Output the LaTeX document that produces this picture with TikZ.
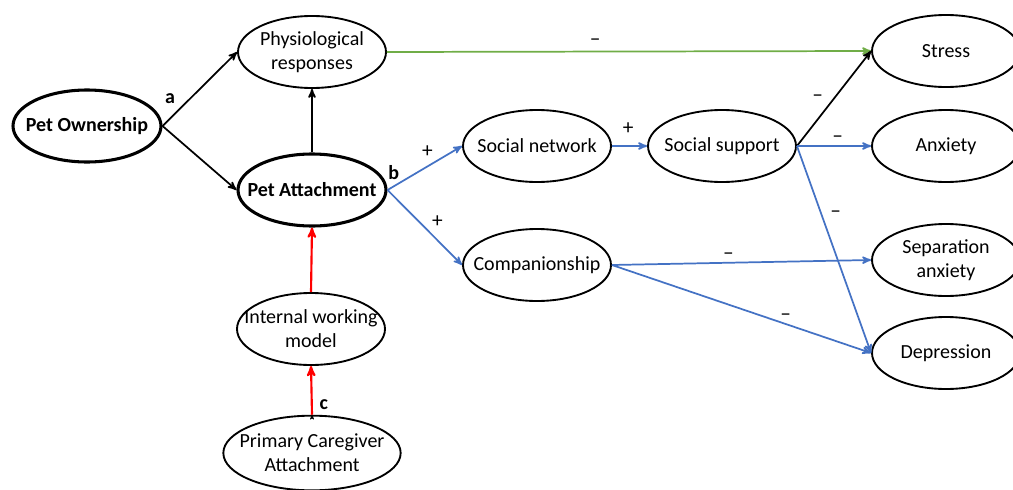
\documentclass[tikz,border=0pt]{standalone}
\usepackage{fontspec}
\setmainfont{Carlito}
\usepackage{tikz}
\usetikzlibrary{shapes.geometric, positioning, arrows}
\definecolor{linkblue}{RGB}{68,114,196}
\definecolor{linkgreen}{RGB}{112,173,71}
\tikzset{
  ->,
  >=stealth',
  var/.style={ellipse, draw, line width=1.4pt, minimum width=111pt, minimum height=54pt, inner sep=0pt},
  main var/.style={var, line width=2.3pt},
  txt/.style={font=\fontsize{15}{18}\selectfont, align=center, inner sep=0pt},
  btxt/.style={txt, font=\bfseries\fontsize{15}{18}\selectfont},
  sign/.style={font=\fontsize{16}{18}\selectfont, text=black, inner sep=2pt},
  letter/.style={font=\bfseries\fontsize{15}{18}\selectfont, text=black, inner sep=2pt},
  link/.style={line width=1.3pt},
  blue link/.style={link, linkblue},
  green link/.style={link, linkgreen},
  red link/.style={line width=1.6pt, red},
}

\begin{document}
\begin{tikzpicture}[x=0.75pt, y=-0.75pt]
  \useasboundingbox (0,0) rectangle (1013,489);

  % constructs
  \node[main var, label={[btxt]center:Pet Ownership}] (po) at (87,126) {};
  \node[var, label={[txt]center:Physiological\\responses}] (pr) at (312,52) {};
  \node[main var, label={[btxt]center:Pet Attachment}] (pa) at (312,190) {};
  \node[var, label={[txt]center:Internal working\\model}] (iw) at (311,329) {};
  \node[var, minimum width=133pt, minimum height=56pt, label={[txt]center:Primary Caregiver\\Attachment}] (pc) at (312,453) {};
  \node[var, label={[txt]center:Social network}] (sn) at (537,146) {};
  \node[var, label={[txt]center:Social support}] (ss) at (722,146) {};
  \node[var, label={[txt]center:Companionship}] (co) at (537,265) {};

  % outcomes
  \node[var, label={[txt]center:Stress}] (st) at (946,51) {};
  \node[var, label={[txt]center:Anxiety}] (an) at (946,146) {};
  \node[var, label={[txt]center:Separation\\anxiety}] (sa) at (946,260) {};
  \node[var, label={[txt]center:Depression}] (de) at (946,353) {};

  % paths
  \draw (po.east) edge[link] node[pos=0.25, above left, letter, xshift=-2pt]{a} (pr.west)
        (po.east) edge[link] (pa.west)
        (pa.north) edge[link] (pr.south)
        (pr.east) edge[green link] node[pos=0.43, above=2pt, sign]{--} (st.west)
        (pa.east) edge[blue link] node[pos=0, above right, letter, xshift=-2pt, yshift=5pt]{b} node[pos=0.5, above=5pt, sign, xshift=2pt]{+} (sn.west)
        (pa.east) edge[blue link] node[pos=0.55, above right, sign]{+} (co.west)
        (sn.east) edge[blue link] node[above=6pt, sign, xshift=-1pt]{+} (ss.west)
        (ss.east) edge[link] node[pos=0.4, above left, sign, yshift=2pt]{--} (st.west)
        (ss.east) edge[blue link] node[pos=0.55, above, sign]{--} (an.west)
        (ss.east) edge[blue link] node[pos=0.33, right=4pt, sign]{--} (de.west)
        (co.east) edge[blue link] node[pos=0.45, above, sign]{--} (sa.west)
        (co.east) edge[blue link] node[pos=0.67, above, sign]{--} (de.west)
        (iw.north) edge[red link] (pa.south)
        (pc.north) edge[red link] node[pos=0.2, right, letter, xshift=3pt]{c} (iw.south);
\end{tikzpicture}
\end{document}
